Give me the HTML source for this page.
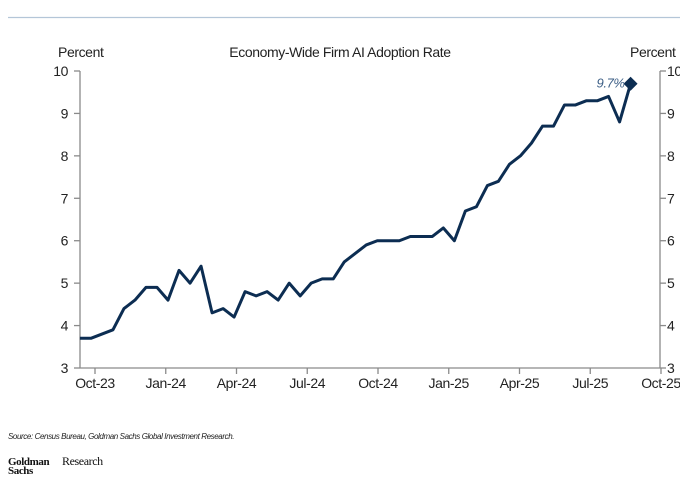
<!DOCTYPE html>
<html><head><meta charset="utf-8"><style>
body{margin:0;background:#fff;width:680px;height:488px;overflow:hidden;font-family:"Liberation Sans",Arial,sans-serif}
svg{display:block}
svg text{letter-spacing:-0.4px}
</style></head><body>
<svg width="680" height="488" viewBox="0 0 680 488">
<line x1="8" y1="17.5" x2="680" y2="17.5" stroke="#b4c6d8" stroke-width="1.2"/>
<text x="58" y="57" font-size="14" fill="#222">Percent</text>
<text x="340" y="57" font-size="14" fill="#222" text-anchor="middle">Economy-Wide Firm AI Adoption Rate</text>
<text x="630" y="57" font-size="14" fill="#222">Percent</text>
<g id="axes"></g>
<g id="series"></g>
<text x="8" y="439" font-size="8" font-style="italic" fill="#222">Source: Census Bureau, Goldman Sachs Global Investment Research.</text>
<text x="8" y="465" font-family="Liberation Serif,serif" font-size="11" font-weight="bold" fill="#111">Goldman</text>
<text x="8" y="474" font-family="Liberation Serif,serif" font-size="11" font-weight="bold" fill="#111">Sachs</text>
<text x="62" y="465" font-family="Liberation Serif,serif" font-size="12" fill="#111">Research</text>
</svg>
<script>
const values=[3.7,3.7,3.8,3.9,4.4,4.6,4.9,4.9,4.6,5.3,5.0,5.4,4.3,4.4,4.2,4.8,4.7,4.8,4.6,5.0,4.7,5.0,5.1,5.1,5.5,5.7,5.9,6.0,6.0,6.0,6.1,6.1,6.1,6.3,6.0,6.7,6.8,7.3,7.4,7.8,8.0,8.3,8.7,8.7,9.2,9.2,9.3,9.3,9.4,8.8,9.7];
const xLabels=["Oct-23","Jan-24","Apr-24","Jul-24","Oct-24","Jan-25","Apr-25","Jul-25","Oct-25"];
const xTickMonths=[0,3,6,9,12,15,18,21,24];
const yTicks=[3,4,5,6,7,8,9,10];
const startMonth=-0.64, stepMonth=0.467;
const NS="http://www.w3.org/2000/svg";
const L=80,R=660,T=71,B=368;
const xs=m=>95+m*(661-95)/24;
const ys=v=>B-(v-3)*(B-T)/7;
function mk(tag,attrs,parent){const e=document.createElementNS(NS,tag);for(const k in attrs)e.setAttribute(k,attrs[k]);parent.appendChild(e);return e;}
const ax=document.getElementById('axes'),se=document.getElementById('series');
const st={stroke:"#8a8a8a","stroke-width":1.3,fill:"none"};
let e=mk('line',Object.assign({x1:L,y1:T,x2:L,y2:B},st),ax);


e=mk('line',Object.assign({x1:R,y1:T,x2:R,y2:B},st),ax);


e=mk('line',Object.assign({x1:L,y1:B,x2:R,y2:B},st),ax);


yTicks.forEach(v=>{const y=ys(v);
 mk('line',Object.assign({x1:L-6,y1:y,x2:L,y2:y},st),ax);
 mk('line',Object.assign({x1:R,y1:y,x2:R+6,y2:y},st),ax);
 let t=mk('text',{x:68,y:y+5,"font-size":14,fill:"#222","text-anchor":"end"},ax);t.textContent=v;
 
 
 t=mk('text',{x:667,y:y+5,"font-size":14,fill:"#222"},ax);t.textContent=v;
 
 
});
xTickMonths.forEach((m,i)=>{const x=xs(m);
 mk('line',Object.assign({x1:x,y1:B,x2:x,y2:B+6},st),ax);
 const t=mk('text',{x:x,y:388,"font-size":14,fill:"#222","text-anchor":"middle"},ax);t.textContent=xLabels[i];
 
 
});
const pts=values.map((v,i)=>[xs(startMonth+i*stepMonth),ys(v)]);
const line=mk('polyline',{points:pts.map(p=>p.join(',')).join(' '),fill:"none",stroke:"#0c2d52","stroke-width":3,"stroke-linejoin":"round"},se);


const lp=pts[pts.length-1];
const d=mk('polygon',{points:`${lp[0]},${lp[1]-7} ${lp[0]+7},${lp[1]} ${lp[0]},${lp[1]+7} ${lp[0]-7},${lp[1]}`,fill:"#0c2d52"},se);


const lb=mk('text',{x:lp[0]-6,y:lp[1]+4,"font-size":13,fill:"#3d5f86","text-anchor":"end","font-style":"italic"},se);
lb.textContent=values[values.length-1]+"%";


</script>
</body></html>
